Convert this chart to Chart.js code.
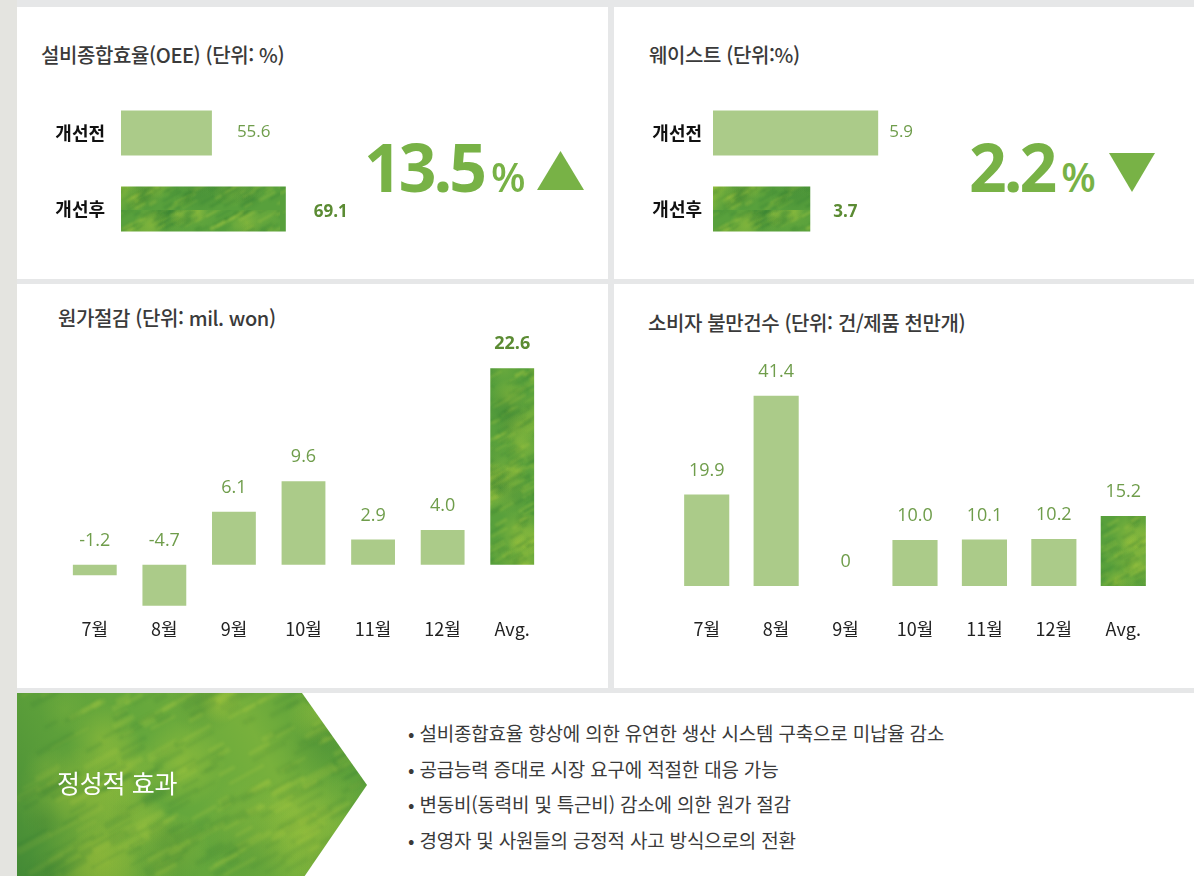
<!DOCTYPE html>
<html lang="ko">
<head>
<meta charset="UTF-8"/>
<title>개선 효과 대시보드</title>
<script src="https://cdn.jsdelivr.net/npm/chart.js@4"></script>
<style>
  body { margin:0; width:1194px; height:876px; overflow:hidden; position:relative; background:#e6e7e8; font-family:"Noto Sans CJK KR",sans-serif; }
  .strip { position:absolute; left:0; top:0; width:17px; height:876px; background:#e4e4e0; }
  .panel { position:absolute; background:#fff; }
  .title { position:absolute; font-size:20px; line-height:26px; color:#3a3a3a; font-weight:500; white-space:nowrap; letter-spacing:-0.4px; }
  .box { position:absolute; }
  .big { position:absolute; color:#78b246; font-family:"Open Sans",sans-serif; line-height:66px; white-space:nowrap; }
  .big .num { font-size:66px; font-weight:700; letter-spacing:-3px; }
  .big .pct { font-size:40px; font-weight:600; margin-left:7px; }
  .tri { position:absolute; background:#78b246; }
  .up { clip-path:polygon(50% 0,100% 100%,0 100%); }
  .down { clip-path:polygon(0 0,100% 0,50% 100%); }
  #chevron { position:absolute; left:17px; top:693px; clip-path:polygon(0 0,285px 0,350px 92px,287px 184px,0 184px); }
  .effTitle { position:absolute; left:57px; top:766px; color:#fff; font-size:25px; line-height:32px; letter-spacing:-0.3px; }
  ul.effects { position:absolute; left:408px; top:715px; margin:0; padding:0; list-style:none; }
  ul.effects li { font-size:19px; line-height:35.6px; height:35.6px; color:#3a3a3a; white-space:nowrap; letter-spacing:-0.2px; }
</style>
</head>
<body>
<div class="strip"></div>
<div class="panel" style="left:17px;top:7px;width:591px;height:272px"></div>
<div class="panel" style="left:614px;top:7px;width:580px;height:272px"></div>
<div class="panel" style="left:17px;top:284px;width:591px;height:404px"></div>
<div class="panel" style="left:614px;top:284px;width:580px;height:404px"></div>
<div class="panel" style="left:17px;top:693px;width:1177px;height:183px"></div>

<div class="title" style="left:41px;top:42px">설비종합효율(OEE) (단위: %)</div>
<div class="title" style="left:649px;top:42px">웨이스트 (단위:%)</div>
<div class="title" style="left:58px;top:305px">원가절감 (단위: mil. won)</div>
<div class="title" style="left:648px;top:310px">소비자 불만건수 (단위: 건/제품 천만개)</div>

<div class="box" style="left:40px;top:90px"><canvas id="oeeChart" width="340" height="162"></canvas></div>
<div class="box" style="left:636px;top:90px"><canvas id="wasteChart" width="324" height="162"></canvas></div>
<div class="box" style="left:60px;top:320px"><canvas id="costChart" width="487" height="320"></canvas></div>
<div class="box" style="left:672px;top:320px"><canvas id="claimChart" width="486" height="320"></canvas></div>

<div class="big" id="oeeBig" style="left:364px;top:133px"></div>
<div class="tri up" style="left:537px;top:151px;width:47px;height:39px"></div>
<div class="big" id="wasteBig" style="left:969px;top:133px"></div>
<div class="tri down" style="left:1109px;top:153px;width:46px;height:39px"></div>

<canvas id="chevron" width="350" height="184"></canvas>
<div class="effTitle">정성적 효과</div>
<ul class="effects" id="effectList"></ul>

<script>
  // data
  const rowLabels = ['개선전', '개선후'];
  const oeeValues = [55.6, 69.1];
  const wasteValues = [5.9, 3.7];
  const months = ['7월', '8월', '9월', '10월', '11월', '12월', 'Avg.'];
  const costValues = [-1.2, -4.7, 6.1, 9.6, 2.9, 4.0, 22.6];
  const claimValues = [19.9, 41.4, 0, 10.0, 10.1, 10.2, 15.2];
  const oeeChange = '13.5';
  const wasteChange = '2.2';
  const effects = [
    '설비종합효율 향상에 의한 유연한 생산 시스템 구축으로 미납율 감소',
    '공급능력 증대로 시장 요구에 적절한 대응 가능',
    '변동비(동력비 및 특근비) 감소에 의한 원가 절감',
    '경영자 및 사원들의 긍정적 사고 방식으로의 전환'
  ];

  const LIGHT = '#abcb89';
  const KR = '"Noto Sans CJK KR", sans-serif';
  const NUM = '"Open Sans", sans-serif';

  // blurry grass-like texture for highlighted bars and the chevron
  function grassTexture(w, h, s){
    const c = document.createElement('canvas'); c.width = w; c.height = h;
    const g = c.getContext('2d');
    const hash = n => { const v = Math.sin(n * 12.9898 + 1.7) * 43758.5453; return v - Math.floor(v); };
    g.fillStyle = '#58a03c'; g.fillRect(0, 0, w, h);
    const blobs = Math.round(w * h / (500 * s * s));
    for(let i = 0; i < blobs; i++){
      const x = hash(i) * w, y = hash(i + 500) * h, r = (8 + hash(i + 900) * 20) * s;
      const t = hash(i + 1300);
      const col = t < 0.42 ? '170,202,60' : (t < 0.75 ? '52,128,52' : '118,176,62');
      const rg = g.createRadialGradient(x, y, 0, x, y, r);
      rg.addColorStop(0, 'rgba(' + col + ',0.5)'); rg.addColorStop(1, 'rgba(' + col + ',0)');
      g.fillStyle = rg; g.fillRect(x - r, y - r, 2 * r, 2 * r);
    }
    g.filter = 'blur(' + (0.8 * s) + 'px)';
    const streaks = Math.round(w * h / (60 * s * s));
    for(let i = 0; i < streaks; i++){
      const x = hash(i + 2000) * w, y = hash(i + 2500) * h, len = (5 + hash(i + 3000) * 14) * s;
      const t = hash(i + 3500);
      g.strokeStyle = t < 0.45 ? 'rgba(180,210,70,0.22)' : 'rgba(40,120,50,0.22)';
      g.lineWidth = (1 + hash(i + 4000) * 2.5) * s;
      g.beginPath(); g.moveTo(x, y); g.lineTo(x + len, y - len * 0.55); g.stroke();
    }
    g.filter = 'none';
    return c;
  }

  const fmt = v => v === 0 ? '0' : v.toFixed(1);

  // value labels next to / above the bars
  const valueLabels = {
    id: 'valueLabels',
    afterDatasetsDraw(chart, args, opts){
      const ctx = chart.ctx, meta = chart.getDatasetMeta(0), vals = chart.data.datasets[0].data;
      ctx.save();
      meta.data.forEach((el, i) => {
        const bold = opts.boldIndex === i;
        ctx.font = (bold ? '700 ' : '400 ') + opts.size + 'px ' + NUM;
        ctx.fillStyle = bold ? '#5b8b33' : '#6f9d4b';
        ctx.textBaseline = 'middle';
        if(chart.options.indexAxis === 'y'){
          ctx.textAlign = 'left';
          ctx.fillText(fmt(vals[i]), el.x + opts.offsets[i], el.y + (bold ? 3 : -1));
        } else {
          ctx.textAlign = 'center';
          ctx.fillText(fmt(vals[i]), el.x, Math.min(el.y, el.base) - opts.offset);
        }
      });
      ctx.restore();
    }
  };

  function hbar(id, values, min, max, axisW, pad, offsets){
    const cv = document.getElementById(id);
    const grass = cv.getContext('2d').createPattern(grassTexture(240, 120, 1), 'repeat');
    return new Chart(cv, {
      type: 'bar',
      data: { labels: rowLabels, datasets: [{ data: values, backgroundColor: [LIGHT, grass], barPercentage: 0.59, categoryPercentage: 1 }] },
      options: {
        indexAxis: 'y', responsive: false, animation: false,
        layout: { padding: { top: 5, bottom: 5 } },
        plugins: { legend: { display: false }, tooltip: { enabled: false }, valueLabels: { size: 17, boldIndex: 1, offsets } },
        scales: {
          x: { display: false, min, max },
          y: { grid: { display: false, drawTicks: false }, border: { display: false },
               ticks: { padding: pad, color: '#111', font: { size: 18, weight: '700', family: KR } },
               afterFit(s){ s.width = axisW; s.paddingTop = 0; s.paddingBottom = 0; } }
        }
      },
      plugins: [valueLabels]
    });
  }

  function vbar(id, values, min, max, padTop, axisH, tickPad, barPct){
    const cv = document.getElementById(id);
    const grass = cv.getContext('2d').createPattern(grassTexture(200, 300, 1), 'repeat');
    const colors = values.map((v, i) => i === values.length - 1 ? grass : LIGHT);
    return new Chart(cv, {
      type: 'bar',
      data: { labels: months, datasets: [{ data: values, backgroundColor: colors, barPercentage: barPct, categoryPercentage: 1 }] },
      options: {
        responsive: false, animation: false,
        layout: { padding: { top: padTop } },
        plugins: { legend: { display: false }, tooltip: { enabled: false }, valueLabels: { size: 18, boldIndex: id === 'costChart' ? values.length - 1 : -1, offset: 24 } },
        scales: {
          y: { display: false, min, max },
          x: { grid: { display: false, drawTicks: false }, border: { display: false },
               ticks: { padding: tickPad, color: '#222', font: { size: 18, family: KR } },
               afterFit(s){ s.height = axisH; s.paddingLeft = 0; s.paddingRight = 0; } }
        }
      },
      plugins: [valueLabels]
    });
  }

  hbar('oeeChart', oeeValues, 39, 86.3, 81, 16, [25, 28]);
  hbar('wasteChart', wasteValues, 0.55, 8.55, 77, 11, [11, 23]);
  vbar('costChart', costValues, -6, 24, 36, 23, 1, 0.63);
  vbar('claimChart', claimValues, 0, 53.5, 20, 54, 32, 0.65);

  document.getElementById('oeeBig').innerHTML = '<span class="num">' + oeeChange + '</span><span class="pct">%</span>';
  document.getElementById('wasteBig').innerHTML = '<span class="num">' + wasteChange + '</span><span class="pct">%</span>';

  // chevron background: texture plus a light/dark sweep
  const chev = document.getElementById('chevron').getContext('2d');
  chev.drawImage(grassTexture(350, 184, 2), 0, 0);
  const sweep = chev.createLinearGradient(0, 184, 350, 0);
  sweep.addColorStop(0, 'rgba(40,110,45,0.45)');
  sweep.addColorStop(0.45, 'rgba(150,195,60,0.2)');
  sweep.addColorStop(0.7, 'rgba(180,208,60,0.35)');
  sweep.addColorStop(1, 'rgba(80,150,50,0.1)');
  chev.fillStyle = sweep; chev.fillRect(0, 0, 350, 184);

  document.getElementById('effectList').innerHTML = effects.map(t => '<li>• ' + t + '</li>').join('');
</script>
</body>
</html>
